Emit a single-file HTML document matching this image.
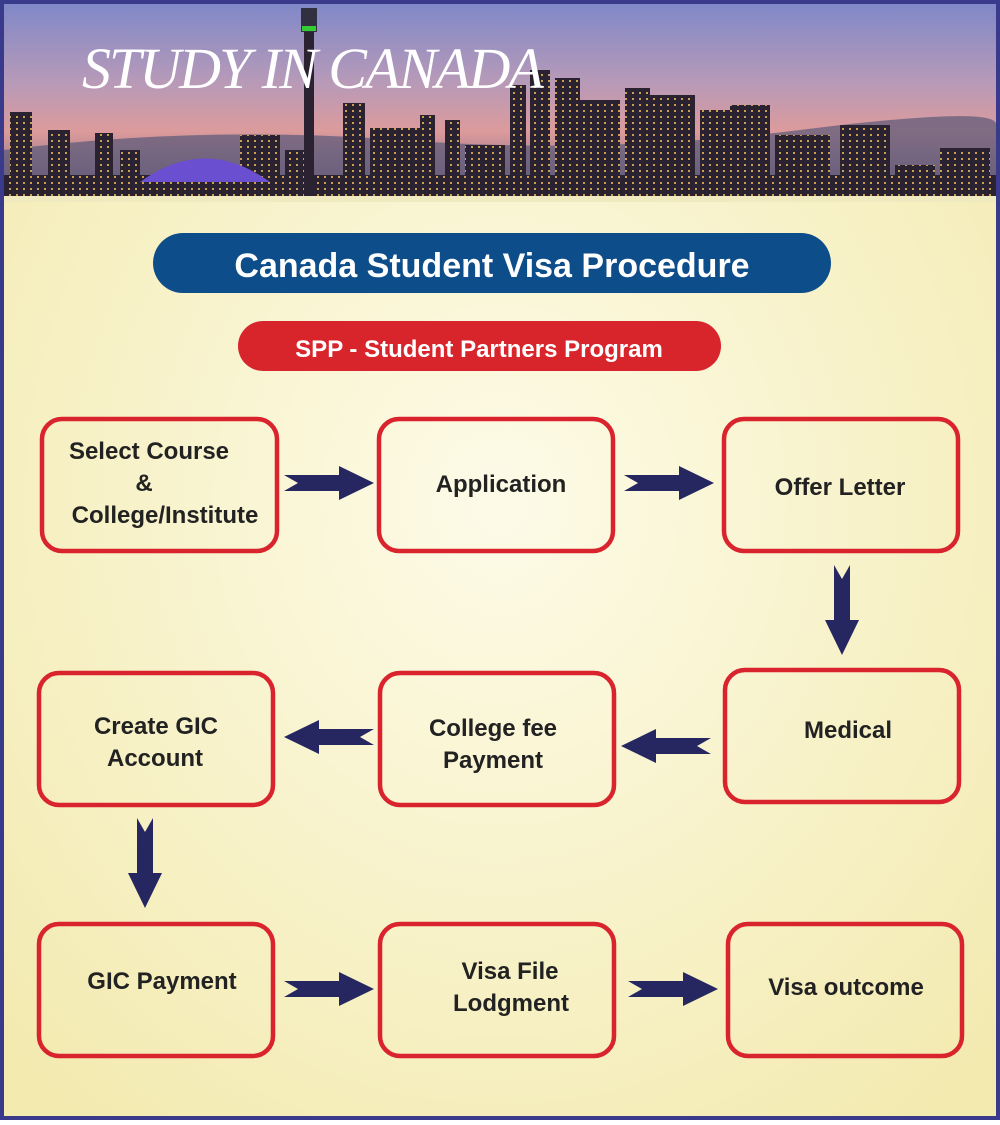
<!DOCTYPE html>
<html><head><meta charset="utf-8"><style>
body{margin:0;width:1000px;height:1120px;overflow:hidden;font-family:"Liberation Sans",sans-serif}
</style></head><body>
<svg width="1000" height="1120" viewBox="0 0 1000 1120" xmlns="http://www.w3.org/2000/svg">
<defs>
<radialGradient id="bg" cx="0.5" cy="0.45" r="0.7">
<stop offset="0" stop-color="#fdfbe8"/><stop offset="0.6" stop-color="#f7f1c6"/><stop offset="1" stop-color="#f3eab0"/>
</radialGradient>
<linearGradient id="sky" x1="0" y1="0" x2="0" y2="1">
<stop offset="0" stop-color="#8088c8"/><stop offset="0.4" stop-color="#b79ab8"/><stop offset="0.65" stop-color="#dc9b9c"/><stop offset="1" stop-color="#6a6080"/>
</linearGradient>
<g id="ah"><polygon points="0,-8 55,-8 55,-17 90,0 55,17 55,8 0,8 14,0" fill="#262660"/></g>
<pattern id="lights" width="7" height="6" patternUnits="userSpaceOnUse"><rect width="7" height="6" fill="#2a2230"/><rect x="2" y="2" width="2" height="2" fill="#c8a050"/></pattern>
</defs>
<rect width="1000" height="1120" fill="#3a3a8c"/>
<rect x="4" y="4" width="992" height="1112" fill="url(#bg)"/>
<rect x="4" y="4" width="992" height="196" fill="url(#sky)"/>
<path d="M4,150 Q200,125 400,140 T800,130 T996,125 L996,200 L4,200Z" fill="#5a5878" opacity="0.7"/>
<g fill="url(#lights)">
<rect x="4" y="175" width="992" height="25"/>
<rect x="10" y="112" width="22" height="88"/><rect x="48" y="130" width="22" height="70"/><rect x="95" y="133" width="18" height="67"/><rect x="120" y="150" width="20" height="50"/>
<rect x="240" y="135" width="40" height="65"/><rect x="285" y="150" width="20" height="50"/>
<rect x="343" y="103" width="22" height="97"/><rect x="370" y="128" width="50" height="72"/><rect x="420" y="115" width="15" height="85"/><rect x="445" y="120" width="15" height="80"/><rect x="465" y="145" width="40" height="55"/>
<rect x="510" y="85" width="16" height="115"/><rect x="530" y="70" width="20" height="130"/><rect x="555" y="78" width="25" height="122"/><rect x="580" y="100" width="40" height="100"/>
<rect x="625" y="88" width="25" height="112"/><rect x="650" y="95" width="45" height="105"/><rect x="700" y="110" width="30" height="90"/><rect x="730" y="105" width="40" height="95"/>
<rect x="775" y="135" width="55" height="65"/><rect x="840" y="125" width="50" height="75"/><rect x="895" y="165" width="40" height="35"/><rect x="940" y="148" width="50" height="52"/>
</g>
<rect x="304" y="18" width="10" height="182" fill="#2a2230"/><rect x="301" y="8" width="16" height="24" fill="#303040"/><rect x="302" y="26" width="14" height="5" fill="#3c3"/>
<path d="M140,182 Q205,135 270,182 Z" fill="#6a4fd0"/>
<rect x="4" y="196" width="992" height="6" fill="#f0eac0"/>
<text x="82" y="88" font-size="58" fill="#fff" font-family="'Liberation Serif',serif" font-style="italic" letter-spacing="-2">STUDY IN CANADA</text>
<rect x="153" y="233" width="678" height="60" rx="30" fill="#0d4d8a"/>
<text x="492" y="277" font-size="34" font-weight="bold" fill="#fff" text-anchor="middle">Canada Student Visa Procedure</text>
<rect x="238" y="321" width="483" height="50" rx="25" fill="#d8242b"/>
<text x="479" y="357" font-size="24" font-weight="bold" fill="#fff" text-anchor="middle">SPP - Student Partners Program</text>
<g fill="none" stroke="#d9232d" stroke-width="4.5">
<rect x="42" y="419" width="235" height="132" rx="20"/>
<rect x="379" y="419" width="234" height="132" rx="20"/>
<rect x="724" y="419" width="234" height="132" rx="20"/>
<rect x="725" y="670" width="234" height="132" rx="20"/>
<rect x="380" y="673" width="234" height="132" rx="20"/>
<rect x="39" y="673" width="234" height="132" rx="20"/>
<rect x="39" y="924" width="234" height="132" rx="20"/>
<rect x="380" y="924" width="234" height="132" rx="20"/>
<rect x="728" y="924" width="234" height="132" rx="20"/>
</g>
<g font-size="24" font-weight="bold" fill="#222" text-anchor="middle">
<text x="149" y="459">Select Course</text><text x="144" y="491">&amp;</text><text x="165" y="523">College/Institute</text>
<text x="501" y="492">Application</text>
<text x="840" y="495">Offer Letter</text>
<text x="848" y="738">Medical</text>
<text x="493" y="736">College fee</text><text x="493" y="768">Payment</text>
<text x="156" y="734">Create GIC</text><text x="155" y="766">Account</text>
<text x="162" y="989">GIC Payment</text>
<text x="510" y="979">Visa File</text><text x="511" y="1011">Lodgment</text>
<text x="846" y="995">Visa outcome</text>
</g>
<use href="#ah" transform="translate(284,483)"/>
<use href="#ah" transform="translate(624,483)"/>
<use href="#ah" transform="translate(284,989)"/>
<use href="#ah" transform="translate(628,989)"/>
<use href="#ah" transform="translate(711,746) scale(-1,1)"/>
<use href="#ah" transform="translate(374,737) scale(-1,1)"/>
<use href="#ah" transform="translate(842,565) rotate(90)"/>
<use href="#ah" transform="translate(145,818) rotate(90)"/>
</svg>
</body></html>
